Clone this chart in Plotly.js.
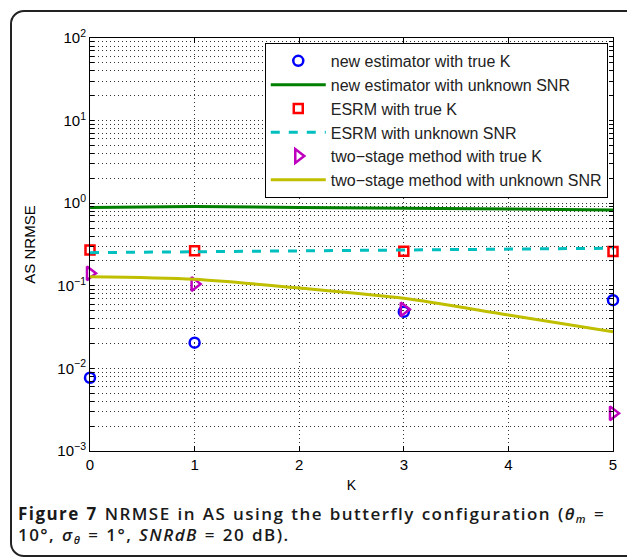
<!DOCTYPE html>
<html><head><meta charset="utf-8">
<script src="https://cdn.plot.ly/plotly-3.0.1.min.js"></script>
<style>
body{margin:0;background:#fff;width:627px;height:558px;overflow:hidden;position:relative;font-family:"Liberation Sans",Arial,sans-serif;}
#frame{position:absolute;left:10px;top:10px;width:630px;height:547px;border:2px solid #222;border-radius:14px;box-sizing:border-box;}
#plot{position:absolute;left:0;top:0;width:627px;height:558px;}
#cap{position:absolute;left:18px;top:503px;font-family:"Open Sans",sans-serif;font-weight:600;font-size:17px;line-height:21px;color:#1a1a1a;letter-spacing:1.45px;word-spacing:1px;white-space:nowrap;}
#cap b{font-weight:700;}
#cap sub{font-size:11px;vertical-align:-3px;line-height:0;}
</style></head><body>
<div id="frame"></div>
<div id="plot"></div>
<div id="cap"><b>Figure 7</b> NRMSE in AS using the butterfly configuration (<i>θ<sub>m</sub></i> =<br>10°, <i>σ<sub>θ</sub></i> = 1°, <i>SNRdB</i> = 20 dB).</div>
<script>
const kAll = [0,1,2,3,4,5];
const kPts = [0,1,3,5];
const newTrueK = [0.0077, 0.0205, 0.0485, 0.067];
const newUnknownSNR = [0.89, 0.91, 0.89, 0.865, 0.85, 0.83];
const esrmTrueK = [0.271, 0.265, 0.262, 0.26];
const esrmUnknownSNR = [0.252, 0.258, 0.265, 0.272, 0.278, 0.285];
const twoTrueK = [0.1416, 0.105, 0.0519, 0.00286];
const twoUnknownSNR = [0.129, 0.120, 0.094, 0.0706, 0.0443, 0.0278];
const decades = [-3,-2,-1,0,1,2];
const decadeLabels = ['10<sup>−3</sup>','10<sup>−2</sup>','10<sup>−1</sup>','10<sup>0</sup>','10<sup>1</sup>','10<sup>2</sup>'];

const yTickVals = [], yTickText = [];
decades.forEach((d,i)=>{
  const mults = d===2 ? [1] : [1,2,3,4,5,6,7,8,9];
  mults.forEach(m=>{ yTickVals.push(m*Math.pow(10,d)); yTickText.push(m===1?decadeLabels[i]:''); });
});

const traces = [
 {x:kPts,y:newTrueK,mode:'markers',name:'new estimator with true K',cliponaxis:false,
  marker:{symbol:'circle-open',size:10,color:'#0000ff',line:{width:2.5,color:'#0000ff'}}},
 {x:kAll,y:newUnknownSNR,mode:'lines',name:'new estimator with unknown SNR',
  line:{color:'#007f00',width:3}},
 {x:kPts,y:esrmTrueK,mode:'markers',name:'ESRM with true K',cliponaxis:false,
  marker:{symbol:'square-open',size:9,color:'#ff0000',line:{width:2.5,color:'#ff0000'}}},
 {x:kAll,y:esrmUnknownSNR,mode:'lines',name:'ESRM with unknown SNR',
  line:{color:'#00bfbf',width:3,dash:'dash'}},
 {x:kPts,y:twoTrueK,mode:'markers',name:'two\u2212stage method with true K',cliponaxis:false,
  marker:{symbol:'triangle-right-open',size:12,color:'#bf00bf',line:{width:2.5,color:'#bf00bf'}}},
 {x:kAll,y:twoUnknownSNR,mode:'lines',name:'two\u2212stage method with unknown SNR',
  line:{color:'#bfbf00',width:3,shape:'spline',smoothing:0.8}}
];
const gridDash = '1px,3px';
const layout = {
 width:627,height:558,
 margin:{l:90,r:14,t:38,b:107},
 paper_bgcolor:'rgba(0,0,0,0)',plot_bgcolor:'#fff',
 font:{family:'"Liberation Sans", Arial, sans-serif',size:14,color:'#000'},
 showlegend:true,
 legend:{x:0.99,xanchor:'right',y:0.988,yanchor:'top',bgcolor:'#fff',bordercolor:'#000',borderwidth:1,
   font:{size:16,color:'#222'},tracegroupgap:0,itemwidth:55},
 xaxis:{range:[0,5],tickvals:[0,1,2,3,4,5],ticks:'inside',ticklen:5,tickcolor:'#000',showline:true,linecolor:'#000',linewidth:1,mirror:'ticks',
   showgrid:true,gridcolor:'#333',griddash:gridDash,gridwidth:1,zeroline:false,
   title:{text:'K',font:{size:14},standoff:8},tickfont:{size:15}},
 yaxis:{type:'log',range:[-3,2],tickvals:yTickVals,ticktext:yTickText,ticks:'inside',ticklen:4,tickcolor:'#000',showline:true,linecolor:'#000',linewidth:1,mirror:'ticks',
   showgrid:true,gridcolor:'#333',griddash:gridDash,gridwidth:1,zeroline:false,
   title:{text:'AS NRMSE',font:{size:15},standoff:18},tickfont:{size:15}}
};
Plotly.newPlot('plot',traces,layout,{displayModeBar:false,staticPlot:true});
</script>
</body></html>
